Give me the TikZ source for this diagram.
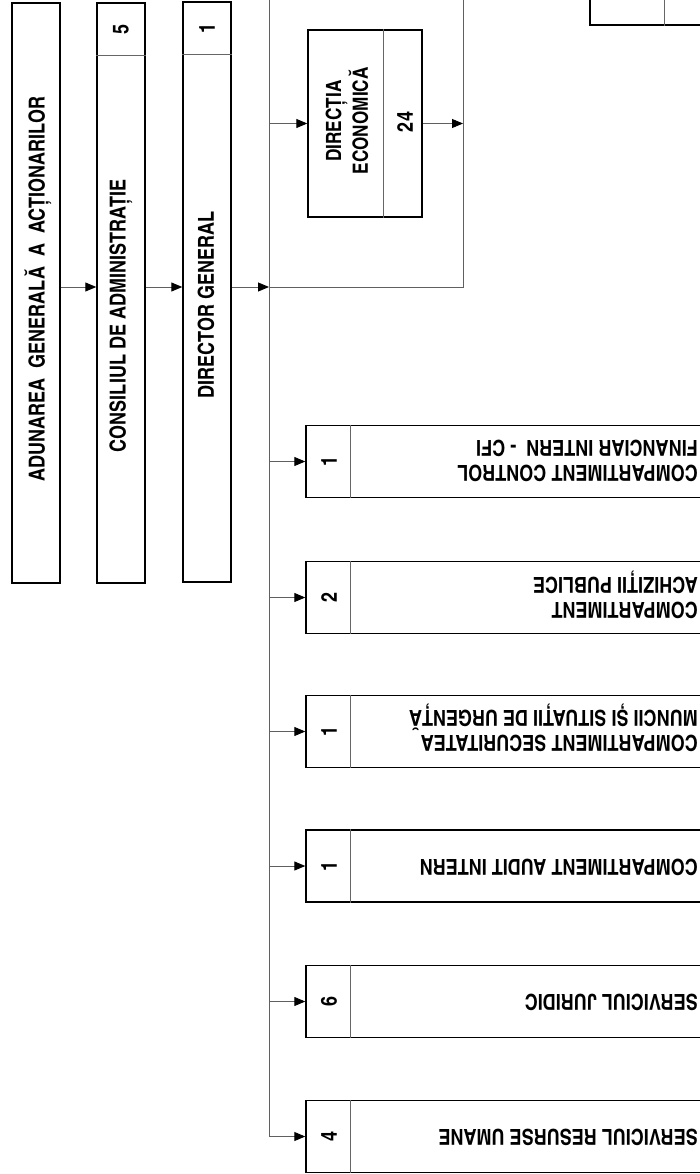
\documentclass[tikz,border=0pt]{standalone}
\usepackage{fontspec}
\setmainfont{texgyreheroscn-bold.otf}
\usetikzlibrary{arrows.meta}
\begin{document}
\begin{tikzpicture}[x=1pt,y=-1pt,
  box/.style={draw=black, line width=1.4pt, inner sep=0pt, rectangle},
  divider/.style={draw=gray!80!black, line width=0.7pt},
  conn/.style={draw=gray!75!black, line width=0.9pt},
  arr/.style={conn, -{Triangle[length=11pt,width=9pt,color=black]}},
  vtext/.style={rotate=90, inner sep=0pt, font=\fontsize{22}{25}\selectfont, align=center},
  dtext/.style={rotate=90, inner sep=0pt, font=\fontsize{21}{25}\selectfont, align=center},
  num/.style={rotate=90, inner sep=0pt, font=\fontsize{22}{24}\selectfont},
  utext/.style={rotate=180, anchor=west, inner sep=0pt, align=left, font=\fontsize{22}{25}\selectfont}
]
\useasboundingbox (0,0) rectangle (700,1174);
\clip (0,0) rectangle (700,1174);
\fill[white] (0,0) rectangle (700,1174);

% left column boxes
\node[box, minimum width=48pt, minimum height=580pt] (adun) at (36,293) {};
\node[box, minimum width=48pt, minimum height=580pt] (cons) at (121,293) {};
\node[box, minimum width=48pt, minimum height=580pt] (dirg) at (207,292) {};
\draw[divider] (cons.west |- 0,55) -- (cons.east |- 0,55);
\draw[divider] (dirg.west |- 0,54) -- (dirg.east |- 0,54);

\node[vtext] (adunT) at (38,289) {ADUNAREA\ \ GENERALĂ\ \ A\ \ ACȚIONARILOR};
\node[vtext] (consT) at (121,316) {CONSILIUL DE ADMINISTRAȚIE};
\node[num] (consN) at (121,29) {5};
\node[vtext] (dirgT) at (206,305) {DIRECTOR GENERAL};
\node[num] (dirgN) at (207,28) {1};

% direction box
\node[box, minimum width=114pt, minimum height=187pt] (econ) at (365,123.5) {};
\draw[divider] (383,0 |- econ.north) -- (383,0 |- econ.south);
\node[dtext] (econT) at (347,121) {DIRECȚIA\\ECONOMICĂ};
\node[num] (econN) at (405,122) {24};

% partial box top right
\node[box, minimum width=170pt, minimum height=75pt] (topr) at (675,-12.5) {};
\draw[divider] (664,0 |- topr.north) -- (664,0 |- topr.south);

% bottom boxes
\foreach \nm/\cy in {cfi/461.5, ach/597.5, sec/731.5, aud/866, jur/1001.5, res/1136.5}{
  \node[box, minimum width=454pt, minimum height=72pt] (\nm) at (533,\cy) {};
  \draw[divider] (350,0 |- \nm.north) -- (350,0 |- \nm.south);
}
\node[num] at (329,461.5) {1};
\node[utext] at (698,461) {COMPARTIMENT CONTROL\\FINANCIAR INTERN \ - CFI};
\node[num] at (329,597.5) {2};
\node[utext] at (698,595) {COMPARTIMENT\\ACHIZIȚII PUBLICE};
\node[num] at (329,731.5) {1};
\node[utext] at (698,728) {COMPARTIMENT SECURITATEA\\MUNCII ȘI SITUAȚII DE URGENȚĂ};
\node[num] at (329,866) {1};
\node[utext] at (698,867) {COMPARTIMENT AUDIT INTERN};
\node[num] at (329,1001.5) {6};
\node[utext] at (698,1002) {SERVICIUL JURIDIC};
\node[num] at (329,1136.5) {4};
\node[utext] at (698,1137) {SERVICIUL RESURSE UMANE};

% connectors
\coordinate (bus) at (269,287);
\coordinate (bustop) at (269,-5);
\coordinate (rtop) at (463,-5);
\draw[arr] (adun.east |- bus) -- (cons.west |- bus);
\draw[arr] (cons.east |- bus) -- (dirg.west |- bus);
\draw[arr] (dirg.east |- bus) -- (bus);
\draw[conn] (bus) -| (rtop);
\draw[arr] (bustop) |- (res.west);
\draw[arr] (bustop |- econ.west) -- (econ.west);
\draw[arr] (econ.east) -- (rtop |- econ.east);
\foreach \nm in {cfi, ach, sec, aud, jur}{
  \draw[arr] (bustop |- \nm.west) -- (\nm.west);
}
\end{tikzpicture}
\end{document}
